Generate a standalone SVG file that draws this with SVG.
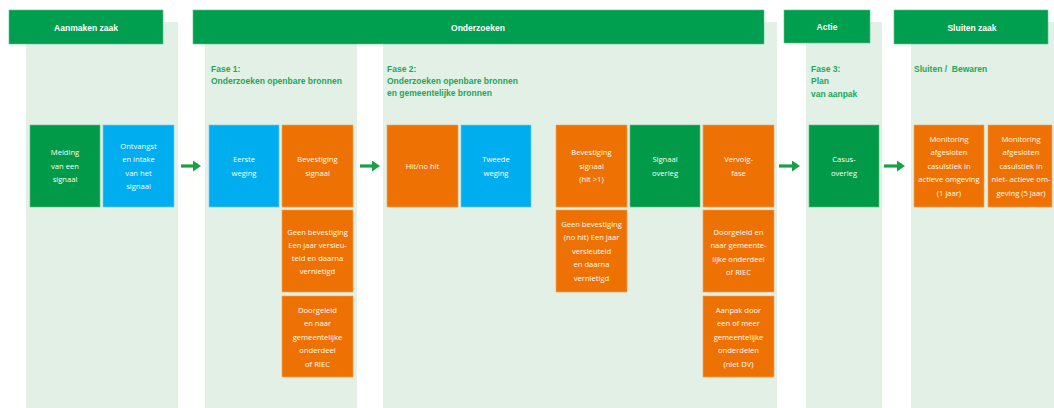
<svg xmlns="http://www.w3.org/2000/svg" width="1054" height="408" viewBox="0 0 1054 408">
<defs>
<style>
.panel{fill:#e2f0e6}
.hdr{fill:#009e4f;stroke:#5cc38a;stroke-width:0.6}
.htxt{font-family:"Liberation Sans",Arial,sans-serif;font-weight:bold;font-size:8.5px;fill:#ffffff;text-anchor:middle}
.fase{font-family:"Liberation Sans",Arial,sans-serif;font-weight:bold;font-size:8.5px;fill:#22a756}
.or{fill:#ee7203;stroke:#f7a25e;stroke-width:0.6}
.bl{fill:#00adef;stroke:#6fd0f5;stroke-width:0.6}
.gr{fill:#009a48;stroke:#5cc38a;stroke-width:0.6}
.t{font-family:"Open Sans","Liberation Sans",sans-serif;font-size:7.6px;fill:#ffffff;text-anchor:middle}
.arr{stroke:#17a048;stroke-width:3.2;fill:none}
</style>
<marker id="ah" markerUnits="userSpaceOnUse" markerWidth="9" markerHeight="11" refX="0" refY="5.5" orient="auto">
<path d="M0,0 L8,5.5 L0,11 z" fill="#17a048"/>
</marker>
</defs>
<rect width="1054" height="408" fill="#ffffff"/>

<g id="panels">
<rect class="panel" x="26" y="22" width="152" height="386"/>
<rect class="panel" x="205" y="22" width="152" height="386"/>
<rect class="panel" x="383" y="22" width="394" height="386"/>
<rect class="panel" x="806" y="22" width="76" height="386"/>
<rect class="panel" x="911" y="22" width="143" height="386"/>
</g>

<g id="header-aanmaken">
<rect class="hdr" x="9" y="10" width="154" height="34"/>
<text class="htxt" x="86" y="30.5">Aanmaken zaak</text>
</g>
<g id="header-onderzoeken">
<rect class="hdr" x="193" y="10" width="571" height="34"/>
<text class="htxt" x="478" y="30.5">Onderzoeken</text>
</g>
<g id="header-actie">
<rect class="hdr" x="784" y="10" width="86" height="33"/>
<text class="htxt" x="827" y="30">Actie</text>
</g>
<g id="header-sluiten">
<rect class="hdr" x="894" y="10" width="154" height="34"/>
<text class="htxt" x="972" y="30.5">Sluiten zaak</text>
</g>

<g id="fase1">
<text class="fase" x="211" y="72">Fase 1:</text>
<text class="fase" x="211" y="84">Onderzoeken openbare bronnen</text>
</g>
<g id="fase2">
<text class="fase" x="387" y="72">Fase 2:</text>
<text class="fase" x="387" y="84">Onderzoeken openbare bronnen</text>
<text class="fase" x="387" y="96">en gemeentelijke bronnen</text>
</g>
<g id="fase3">
<text class="fase" x="811" y="72">Fase 3:</text>
<text class="fase" x="811" y="84">Plan</text>
<text class="fase" x="811" y="97">van aanpak</text>
</g>
<g id="sluiten-label">
<text class="fase" x="914" y="72">Sluiten /&#160; Bewaren</text>
</g>

<g id="melding">
<rect class="gr" x="30" y="125" width="70" height="82"/>
<text class="t" x="65" y="155.3">Melding</text>
<text class="t" x="65" y="168.8">van een</text>
<text class="t" x="65" y="182.3">signaal</text>
</g>
<g id="ontvangst">
<rect class="bl" x="103" y="125" width="71" height="82"/>
<text class="t" x="138.5" y="148.5">Ontvangst</text>
<text class="t" x="138.5" y="162">en intake</text>
<text class="t" x="138.5" y="175.5">van het</text>
<text class="t" x="138.5" y="189">signaal</text>
</g>
<g id="eerste-weging">
<rect class="bl" x="209" y="125" width="70" height="82"/>
<text class="t" x="244" y="162">Eerste</text>
<text class="t" x="244" y="175.5">weging</text>
</g>
<g id="bevestiging1">
<rect class="or" x="282" y="125" width="71" height="82"/>
<text class="t" x="317.5" y="162">Bevestiging</text>
<text class="t" x="317.5" y="175.5">signaal</text>
</g>
<g id="geen-bevestiging1">
<rect class="or" x="282" y="210" width="71" height="82"/>
<text class="t" x="317.5" y="234.8">Geen bevestiging</text>
<text class="t" x="317.5" y="247.8">Een jaar versleu-</text>
<text class="t" x="317.5" y="260.8">teld en daarna</text>
<text class="t" x="317.5" y="273.8">vernietigd</text>
</g>
<g id="doorgeleid1">
<rect class="or" x="282" y="296" width="71" height="81"/>
<text class="t" x="317.5" y="312.8">Doorgeleid</text>
<text class="t" x="317.5" y="326.3">en naar</text>
<text class="t" x="317.5" y="339.8">gemeentelijke</text>
<text class="t" x="317.5" y="353.3">onderdeel</text>
<text class="t" x="317.5" y="366.8">of RIEC</text>
</g>
<g id="hit">
<rect class="or" x="387" y="125" width="71" height="82"/>
<text class="t" x="422.5" y="168.8">Hit/no hit</text>
</g>
<g id="tweede-weging">
<rect class="bl" x="461" y="125" width="70" height="82"/>
<text class="t" x="496" y="162">Tweede</text>
<text class="t" x="496" y="175.5">weging</text>
</g>
<g id="bevestiging2">
<rect class="or" x="556" y="125" width="71" height="82"/>
<text class="t" x="591.5" y="155.3">Bevestiging</text>
<text class="t" x="591.5" y="168.8">signaal</text>
<text class="t" x="591.5" y="182.3">(hit &gt;1)</text>
</g>
<g id="geen-bevestiging2">
<rect class="or" x="556" y="210" width="71" height="82"/>
<text class="t" x="591.5" y="226.8">Geen bevestiging</text>
<text class="t" x="591.5" y="240.3">(no hit) Een jaar</text>
<text class="t" x="591.5" y="253.8">versleuteld</text>
<text class="t" x="591.5" y="267.3">en daarna</text>
<text class="t" x="591.5" y="280.8">vernietigd</text>
</g>
<g id="signaal-overleg">
<rect class="gr" x="630" y="125" width="70" height="82"/>
<text class="t" x="665" y="162">Signaal</text>
<text class="t" x="665" y="175.5">overleg</text>
</g>
<g id="vervolgfase">
<rect class="or" x="703" y="125" width="71" height="82"/>
<text class="t" x="738.5" y="162">Vervolg-</text>
<text class="t" x="738.5" y="175.5">fase</text>
</g>
<g id="doorgeleid2">
<rect class="or" x="703" y="210" width="71" height="82"/>
<text class="t" x="738.5" y="234.8">Doorgeleid en</text>
<text class="t" x="738.5" y="248.3">naar gemeente-</text>
<text class="t" x="738.5" y="261.8">lijke onderdeel</text>
<text class="t" x="738.5" y="275.3">of RIEC</text>
</g>
<g id="aanpak">
<rect class="or" x="703" y="296" width="71" height="81"/>
<text class="t" x="738.5" y="312.8">Aanpak door</text>
<text class="t" x="738.5" y="326.3">een of meer</text>
<text class="t" x="738.5" y="339.8">gemeentelijke</text>
<text class="t" x="738.5" y="353.3">onderdelen</text>
<text class="t" x="738.5" y="366.8">(niet DV)</text>
</g>
<g id="casusoverleg">
<rect class="gr" x="809" y="125" width="70" height="82"/>
<text class="t" x="844" y="162">Casus-</text>
<text class="t" x="844" y="175.5">overleg</text>
</g>
<g id="monitoring1">
<rect class="or" x="914" y="125" width="70" height="82"/>
<text class="t" x="949" y="141.8">Monitoring</text>
<text class="t" x="949" y="155.3">afgesloten</text>
<text class="t" x="949" y="168.8">casuïstiek in</text>
<text class="t" x="949" y="182.3">actieve omgeving</text>
<text class="t" x="949" y="195.8">(1 jaar)</text>
</g>
<g id="monitoring2">
<rect class="or" x="988" y="125" width="64" height="82"/>
<text class="t" x="1021" y="141.8">Monitoring</text>
<text class="t" x="1021" y="155.3">afgesloten</text>
<text class="t" x="1021" y="168.8">casuïstiek in</text>
<text class="t" x="1021" y="182.3">niet- actieve om-</text>
<text class="t" x="1021" y="195.8">geving (5 jaar)</text>
</g>

<g id="connectors">
<line class="arr" x1="181" y1="166" x2="193" y2="166" marker-end="url(#ah)"/>
<line class="arr" x1="360" y1="166" x2="372" y2="166" marker-end="url(#ah)"/>
<line class="arr" x1="779" y1="166" x2="792" y2="166" marker-end="url(#ah)"/>
<line class="arr" x1="884" y1="166" x2="897" y2="166" marker-end="url(#ah)"/>
</g>
</svg>
